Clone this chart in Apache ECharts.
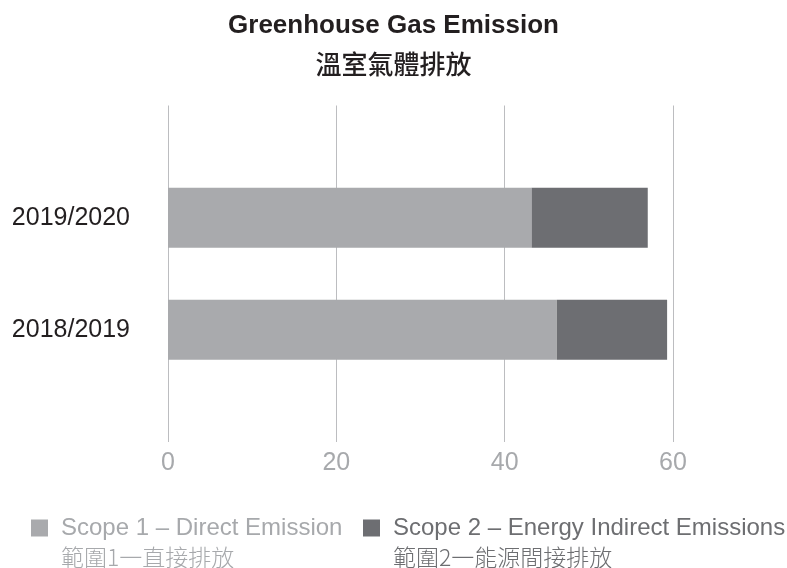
<!DOCTYPE html>
<html>
<head>
<meta charset="utf-8">
<script src="https://cdn.jsdelivr.net/npm/echarts@6/dist/echarts.min.js"></script>
<style>
  html, body { margin: 0; padding: 0; background: #ffffff; }
  #chart { width: 787px; height: 568px; }
</style>
</head>
<body>
<div id="chart"></div>
<script>
const categories = ['2018/2019', '2019/2020'];
const scope1 = [46.2, 43.2];
const scope2 = [13.1, 13.8];
const xTicks = [0, 20, 40, 60];
const seriesNames = ['Scope 1 – Direct Emission', 'Scope 2 – Energy Indirect Emissions'];
const seriesNamesZh = ['範圍1一直接排放', '範圍2一能源間接排放'];

const FONT = "'Liberation Sans', Arial, 'Noto Sans CJK TC', sans-serif";
const c1 = '#a9aaad';
const c2 = '#6d6e72';

// pad categories with empty slots so the gridlines extend above/below the bars
const yCats = [''].concat(categories, ['']);
const pad = arr => ['-'].concat(arr, ['-']);

function legendFor(idx, left, textColor, color) {
  return {
    show: true,
    left: left,
    top: 516,
    padding: 0,
    orient: 'horizontal',
    itemWidth: 17,
    itemHeight: 17,
    icon: 'rect',
    selectedMode: false,
    data: [{ name: seriesNames[idx], itemStyle: { color: color } }],
    formatter: function (name) {
      return '{a|' + name + '}\n{b|' + seriesNamesZh[idx] + '}';
    },
    textStyle: {
      color: textColor,
      fontFamily: FONT,
      fontSize: 24,
      padding: [29, 0, 0, 8],
      rich: {
        a: { fontSize: 24, lineHeight: 29, color: textColor, fontFamily: FONT },
        b: { fontSize: 23, lineHeight: 29, color: textColor, fontFamily: "'Noto Sans CJK TC', 'Liberation Sans', sans-serif", fontWeight: 300 }
      }
    }
  };
}

const chart = echarts.init(document.getElementById('chart'), null, { renderer: 'canvas' });
chart.setOption({
  animation: false,
  backgroundColor: '#ffffff',
  title: [
    {
      text: 'Greenhouse Gas Emission',
      left: 'center',
      top: 13,
      padding: 0,
      textStyle: { fontFamily: FONT, fontSize: 26, fontWeight: 'bold', color: '#231f20' }
    },
    {
      text: '溫室氣體排放',
      left: 'center',
      top: 51,
      padding: 0,
      textStyle: { fontFamily: "'Noto Sans CJK TC', sans-serif", fontSize: 26, fontWeight: 500, color: '#231f20' }
    }
  ],
  legend: [
    legendFor(0, 31, '#a7a9ac', c1),
    legendFor(1, 363, '#6d6e71', c2)
  ],
  grid: { left: 168, right: 114, top: 105.5, bottom: 126, containLabel: false },
  xAxis: {
    type: 'value',
    min: xTicks[0],
    max: xTicks[xTicks.length - 1],
    interval: xTicks[1] - xTicks[0],
    axisLine: { show: false },
    axisTick: { show: false },
    splitLine: { show: true, lineStyle: { color: '#bcbdc0', width: 1 } },
    axisLabel: { color: '#a7a9ac', fontSize: 25, fontFamily: FONT, margin: 9 }
  },
  yAxis: {
    type: 'category',
    data: yCats,
    boundaryGap: false,
    axisLine: { show: false },
    axisTick: { show: false },
    splitLine: { show: false },
    axisLabel: { color: '#231f20', fontSize: 25, fontFamily: FONT, margin: 38 }
  },
  series: [
    {
      name: seriesNames[0],
      type: 'bar',
      stack: 'total',
      barWidth: 60,
      data: pad(scope1),
      itemStyle: { color: c1 }
    },
    {
      name: seriesNames[1],
      type: 'bar',
      stack: 'total',
      barWidth: 60,
      data: pad(scope2),
      itemStyle: { color: c2 }
    }
  ]
});
</script>
</body>
</html>
